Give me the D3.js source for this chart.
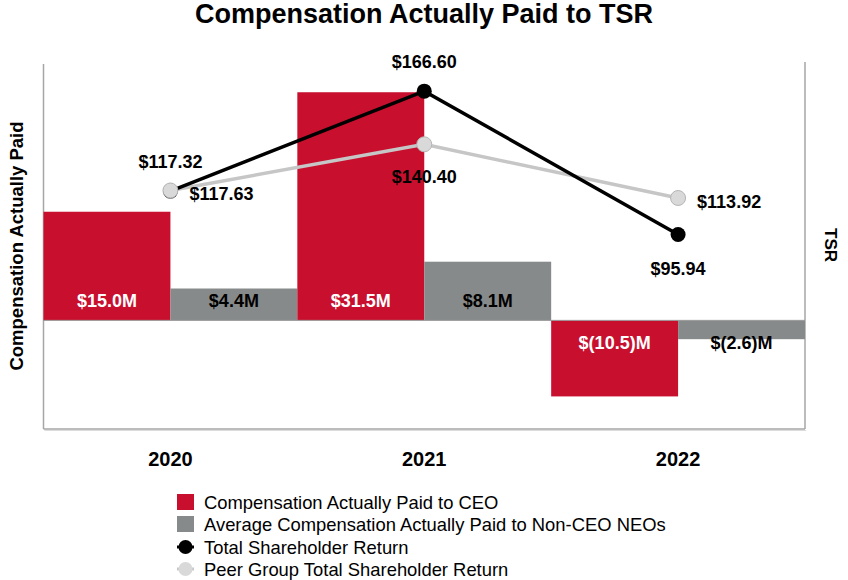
<!DOCTYPE html>
<html>
<head>
<meta charset="utf-8">
<script src="https://cdn.jsdelivr.net/npm/d3@7"></script>
<style>
  html, body { margin: 0; padding: 0; background: #fff; }
  svg { display: block; font-family: "Liberation Sans", Arial, sans-serif; }
</style>
</head>
<body>
<svg id="chart" width="848" height="580"></svg>
<script>
// ---- data ----
const years = ["2020", "2021", "2022"];
const ceoCAP = [15.0, 31.5, -10.5];          // $M
const neoCAP = [4.4, 8.1, -2.6];             // $M
const tsr = [117.32, 166.60, 95.94];
const peerTsr = [117.63, 140.40, 113.92];
const seriesNames = [
  "Compensation Actually Paid to CEO",
  "Average Compensation Actually Paid to Non-CEO NEOs",
  "Total Shareholder Return",
  "Peer Group Total Shareholder Return"
];
const title = "Compensation Actually Paid to TSR";
const leftTitle = "Compensation Actually Paid";
const rightTitle = "TSR";

// label placements (style, not data)
const tsrPlace = ["above", "above", "below"];
const peerPlace = ["right", "below", "right"];

const colors = { ceo: "#c8102e", neo: "#878a8a", tsr: "#000000", peer: "#c6c6c6", peerFill: "#d9d9d9" };

const svg = d3.select("#chart");
const plot = { left: 43.5, right: 805, top: 64, bottom: 429 };

const x = d3.scaleBand().domain(years).range([plot.left, plot.right]).padding(0);
const xs = d3.scaleBand().domain(["ceo", "neo"]).range([0, x.bandwidth()]).padding(0);
const yL = d3.scaleLinear().domain([-15, 35.4]).range([plot.bottom, plot.top]);
const yR = d3.scaleLinear().domain([0, 180]).range([plot.bottom, plot.top]);

// title
svg.append("text").attr("x", 424).attr("y", 23).attr("text-anchor", "middle")
  .attr("font-size", 27).attr("font-weight", "bold").attr("fill", "#000").text(title);

// axis frame
const frame = svg.append("g").attr("stroke", "#a6a6a6").attr("stroke-width", 1.5).attr("fill", "none");
frame.append("line").attr("x1", plot.left).attr("x2", plot.left).attr("y1", plot.top).attr("y2", plot.bottom);
frame.append("line").attr("x1", plot.right).attr("x2", plot.right).attr("y1", plot.top - 2).attr("y2", plot.bottom);
frame.append("line").attr("x1", plot.left).attr("x2", plot.right).attr("y1", plot.bottom).attr("y2", plot.bottom);
svg.append("line").attr("x1", plot.left + 1).attr("x2", plot.right + 1).attr("y1", plot.bottom + 1.5).attr("y2", plot.bottom + 1.5)
  .attr("stroke", "#dcdcdc").attr("stroke-width", 1);

// bars
const barData = [];
years.forEach((yr, i) => {
  barData.push({ year: yr, key: "ceo", v: ceoCAP[i] });
  barData.push({ year: yr, key: "neo", v: neoCAP[i] });
});
svg.append("g").selectAll("rect").data(barData).join("rect")
  .attr("x", d => x(d.year) + xs(d.key))
  .attr("width", xs.bandwidth())
  .attr("y", d => Math.min(yL(d.v), yL(0)))
  .attr("height", d => Math.abs(yL(d.v) - yL(0)))
  .attr("fill", d => colors[d.key]);

// zero line
svg.append("line").attr("x1", plot.left).attr("x2", plot.right).attr("y1", yL(0)).attr("y2", yL(0))
  .attr("stroke", "#9a9a9a").attr("stroke-width", 1);

// bar labels
const fmtM = v => v < 0 ? `$(${Math.abs(v).toFixed(1)})M` : `$${v.toFixed(1)}M`;
svg.append("g").selectAll("text").data(barData).join("text")
  .attr("x", d => x(d.year) + xs(d.key) + xs.bandwidth() / 2)
  .attr("y", d => d.v >= 0 ? yL(0) - 13 : yL(0) + 29)
  .attr("text-anchor", "middle").attr("font-size", 18).attr("font-weight", "bold")
  .attr("fill", d => d.key === "ceo" ? "#fff" : "#000")
  .text(d => fmtM(d.v));

// lines
const cx = yr => x(yr) + x.bandwidth() / 2;
const line = d3.line().x(d => cx(d.year)).y(d => yR(d.v));
const tsrData = years.map((yr, i) => ({ year: yr, v: tsr[i], place: tsrPlace[i] }));
const peerData = years.map((yr, i) => ({ year: yr, v: peerTsr[i], place: peerPlace[i] }));

svg.append("path").datum(peerData).attr("d", line).attr("fill", "none")
  .attr("stroke", colors.peer).attr("stroke-width", 3.5);
svg.append("path").datum(tsrData).attr("d", line).attr("fill", "none")
  .attr("stroke", colors.tsr).attr("stroke-width", 3.5);

svg.append("g").selectAll("circle").data(tsrData).join("circle")
  .attr("cx", d => cx(d.year)).attr("cy", d => yR(d.v)).attr("r", 7.5)
  .attr("fill", "#000");
svg.append("g").selectAll("circle").data(peerData).join("circle")
  .attr("cx", d => cx(d.year)).attr("cy", d => yR(d.v)).attr("r", 7.5)
  .attr("fill", colors.peerFill).attr("stroke", "#b5b5b5").attr("stroke-width", 1);

// point labels
function placeLabel(g, d, key) {
  const px = cx(d.year), py = yR(d.v);
  let tx = px, ty = py, anchor = "middle";
  if (d.place === "above") { ty = py - 23; }
  else if (d.place === "below") { ty = py + (key === "tsr" ? 41 : 39); }
  else if (d.place === "right") { tx = px + (key === "tsr" ? 18 : 19); ty = py + 10; anchor = "start"; }
  g.append("text").attr("x", tx).attr("y", ty).attr("text-anchor", anchor)
    .attr("font-size", 18).attr("font-weight", "bold").attr("fill", "#000")
    .text("$" + d.v.toFixed(2));
}
const lblG = svg.append("g");
tsrData.forEach(d => placeLabel(lblG, d, "tsr"));
peerData.forEach(d => placeLabel(lblG, d, "peer"));

// x labels
svg.append("g").selectAll("text").data(years).join("text")
  .attr("x", d => cx(d)).attr("y", 466).attr("text-anchor", "middle")
  .attr("font-size", 20).attr("font-weight", "bold").attr("fill", "#000").text(d => d);

// axis titles
svg.append("text").attr("transform", "translate(23,246) rotate(-90)")
  .attr("text-anchor", "middle").attr("font-size", 18.5).attr("font-weight", "bold").text(leftTitle);
svg.append("text").attr("transform", "translate(825,245) rotate(90)")
  .attr("text-anchor", "middle").attr("font-size", 17).attr("font-weight", "bold").text(rightTitle);

// legend
const lg = svg.append("g");
const rowY = [502, 524, 547, 569];
const lx = 177;
lg.append("rect").attr("x", lx).attr("y", rowY[0] - 8).attr("width", 17).attr("height", 16).attr("fill", colors.ceo);
lg.append("rect").attr("x", lx).attr("y", rowY[1] - 8).attr("width", 17).attr("height", 16).attr("fill", colors.neo);
lg.append("line").attr("x1", lx).attr("x2", lx + 17).attr("y1", rowY[2]).attr("y2", rowY[2]).attr("stroke", "#000").attr("stroke-width", 3);
lg.append("circle").attr("cx", lx + 8.5).attr("cy", rowY[2]).attr("r", 7).attr("fill", "#000");
lg.append("line").attr("x1", lx).attr("x2", lx + 17).attr("y1", rowY[3]).attr("y2", rowY[3]).attr("stroke", colors.peer).attr("stroke-width", 3);
lg.append("circle").attr("cx", lx + 8.5).attr("cy", rowY[3]).attr("r", 7).attr("fill", colors.peerFill);
lg.selectAll("text").data(seriesNames).join("text")
  .attr("x", 204).attr("y", (d, i) => rowY[i] + 6.5)
  .attr("font-size", 18.4).attr("fill", "#000").text(d => d);
</script>
</body>
</html>
